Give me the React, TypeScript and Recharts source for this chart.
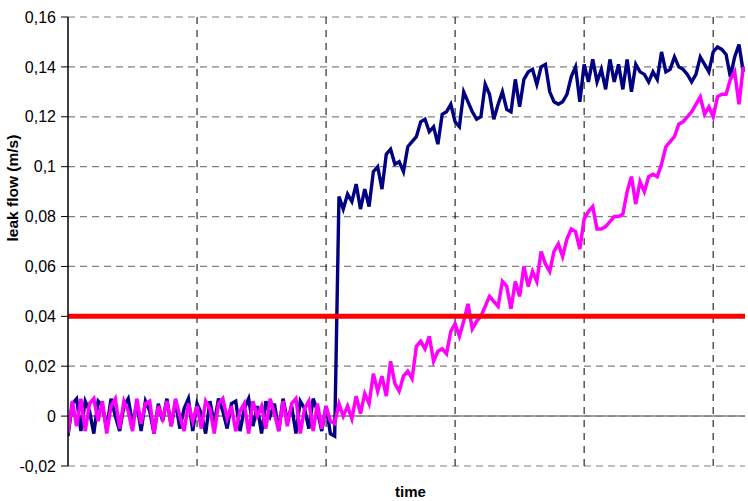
import { LineChart, Line, XAxis, YAxis, CartesianGrid, ReferenceLine } from 'recharts';

// leak flow readings (m/s), one per sample
const flowA = [
  -0.008, 0.005, 0.007, -0.006, 0.006, 0.002, -0.007, 0.006, 0.004, -0.005,
  0.007, 0.0, -0.006, 0.004, 0.007, -0.003, 0.005, -0.006, 0.006, 0.002,
  -0.007, 0.005, -0.002, 0.007, -0.004, 0.006, -0.005, 0.003, 0.007, -0.006,
  0.005, 0.001, -0.007, 0.006, -0.003, 0.007, 0.002, -0.005, 0.005, 0.006,
  -0.006, 0.003, 0.007, -0.004, 0.004, -0.007, 0.006, 0.0, 0.005, -0.006,
  0.007, -0.002, 0.004, -0.007, 0.006, 0.003, -0.005, 0.007, 0.002, -0.006,
  0.004, -0.007, -0.008,
  0.088, 0.083, 0.089, 0.086, 0.093, 0.083, 0.091, 0.084, 0.098, 0.1,
  0.091, 0.105, 0.107, 0.101, 0.102, 0.098, 0.108, 0.11, 0.112, 0.118,
  0.119, 0.114, 0.116, 0.109, 0.121, 0.122, 0.125, 0.118, 0.116, 0.13,
  0.126, 0.122, 0.119, 0.12, 0.133, 0.129, 0.119, 0.125, 0.13, 0.123,
  0.122, 0.135, 0.124, 0.135, 0.138, 0.139, 0.133, 0.14, 0.141, 0.13,
  0.126, 0.125, 0.126, 0.129, 0.136, 0.14, 0.126, 0.141, 0.134, 0.143,
  0.134, 0.139, 0.131, 0.143, 0.134, 0.141, 0.131, 0.143, 0.13, 0.141,
  0.138, 0.137, 0.134, 0.138, 0.135, 0.146, 0.138, 0.139, 0.144, 0.14,
  0.139, 0.137, 0.134, 0.137, 0.144, 0.141, 0.138, 0.146, 0.148, 0.147,
  0.145, 0.136, 0.144, 0.149, 0.138,
];

const flowB = [
  -0.007, 0.006, -0.004, 0.007, -0.006, 0.005, 0.007, -0.002, 0.006, -0.007,
  0.004, 0.007, -0.005, 0.006, 0.002, -0.006, 0.007, -0.003, 0.005, 0.006,
  -0.007, 0.004, -0.001, 0.006, -0.004, 0.007, 0.0, -0.006, 0.005, -0.002,
  0.004, -0.005, 0.006, 0.003, -0.007, 0.005, 0.007, -0.001, 0.004, -0.006,
  0.002, 0.005, -0.007, 0.006, 0.0, 0.004, -0.005, 0.007, 0.001, -0.006,
  0.006, -0.004, 0.005, 0.007, -0.007, 0.003, 0.006, -0.006, 0.005, -0.005,
  0.004, -0.002, -0.003,
  0.005, 0.0, 0.004, -0.001, 0.008, 0.001, 0.009, 0.005, 0.017, 0.01,
  0.016, 0.008, 0.022, 0.013, 0.01, 0.016, 0.018, 0.015, 0.028, 0.03,
  0.027, 0.032, 0.022, 0.026, 0.027, 0.025, 0.034, 0.037, 0.032, 0.038,
  0.045, 0.035, 0.038, 0.04, 0.044, 0.048, 0.046, 0.044, 0.054, 0.052,
  0.043, 0.054, 0.048, 0.06, 0.052, 0.058, 0.054, 0.066, 0.061, 0.058,
  0.066, 0.069, 0.064, 0.071, 0.075, 0.074, 0.067, 0.079, 0.082, 0.084,
  0.075, 0.075, 0.076, 0.078, 0.08, 0.08, 0.081, 0.09, 0.096, 0.085,
  0.094, 0.09, 0.096, 0.097, 0.096, 0.101, 0.108, 0.11, 0.112, 0.117,
  0.118, 0.12, 0.122, 0.125, 0.128, 0.121, 0.124, 0.12, 0.128, 0.129,
  0.129, 0.135, 0.138, 0.125, 0.14,
];

const threshold = 0.04;
const yTicks = [-0.02, 0, 0.02, 0.04, 0.06, 0.08, 0.1, 0.12, 0.14, 0.16];
const timeTicks = [30, 60, 90, 120, 150];

const rows = flowA.map((a, i) => ({ t: i, a, b: flowB[i] }));

const fmt = (v: number) => String(v).replace('.', ',');

// horizontal grid: gray dashes
const hLine = (p: any) => (
  <line key={p.key} x1={p.x1} y1={p.y1} x2={p.x2} y2={p.y2} stroke="#808080" strokeWidth={1.2} strokeDasharray="7 5" />
);

export default function App() {
  return (
    <div style={{ width: 748, height: 501, background: '#fff', fontFamily: '"Liberation Sans", Arial, sans-serif' }}>
      <style>{'body{margin:0}'}</style>
      <LineChart width={748} height={501} data={rows} margin={{ top: 17, right: 3, bottom: 0, left: 0 }}>
        <CartesianGrid horizontal={hLine} vertical={false} />
        <XAxis
          type="number"
          dataKey="t"
          domain={[0, 157.4]}
          ticks={timeTicks}
          allowDataOverflow
          tick={false}
          tickLine={false}
          axisLine={false}
          height={35}
          label={{ value: 'time', position: 'insideBottom', offset: 4, dx: 4, fill: '#000', fontSize: 15, fontWeight: 700 }}
        />
        <YAxis
          type="number"
          domain={[-0.02, 0.16]}
          ticks={yTicks}
          tickFormatter={fmt}
          width={68}
          axisLine={{ stroke: '#000', strokeWidth: 1.5 }}
          tickLine={{ stroke: '#000' }}
          tickSize={7}
          tickMargin={5}
          tick={{ fill: '#000', fontSize: 16 }}
          label={{ value: 'leak flow (m/s)', angle: -90, position: 'insideLeft', offset: 12, fill: '#000', fontSize: 15.5, fontWeight: 700 }}
        />
        {/* vertical grid: black dashes */}
        {timeTicks.map((t) => (
          <ReferenceLine key={t} x={t} stroke="#000" strokeWidth={1} strokeDasharray="7 6" />
        ))}
        <ReferenceLine y={0} stroke="#808080" strokeWidth={1.5} />
        <Line type="linear" dataKey="a" stroke="#000080" strokeWidth={3.4} dot={false} isAnimationActive={false} />
        <Line type="linear" dataKey="b" stroke="#FF00FF" strokeWidth={3.5} dot={false} isAnimationActive={false} />
        <ReferenceLine y={threshold} stroke="#FF0000" strokeWidth={5} />
      </LineChart>
    </div>
  );
}
